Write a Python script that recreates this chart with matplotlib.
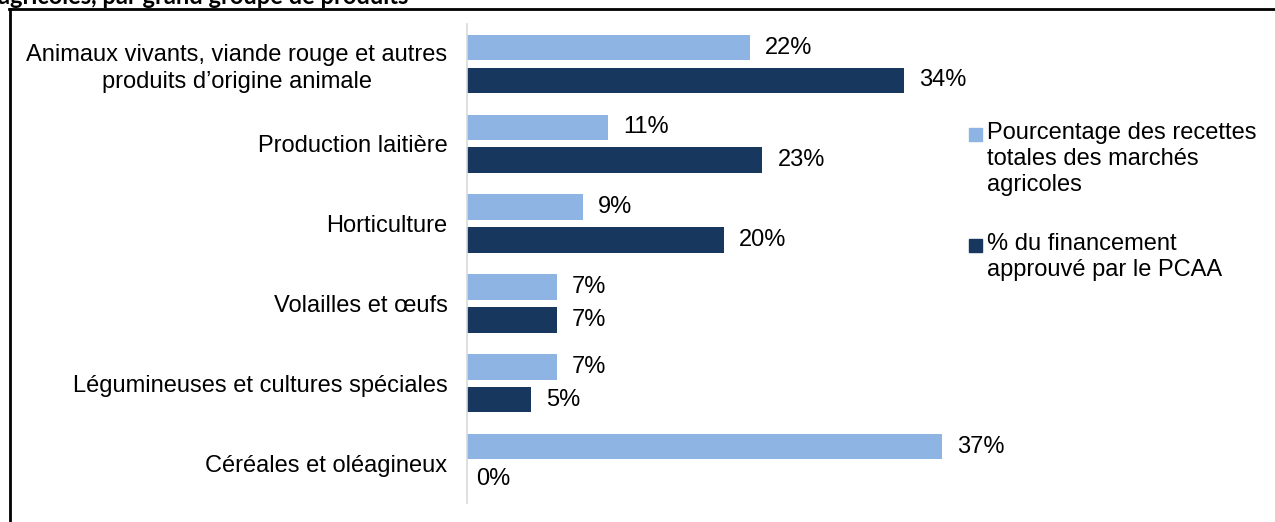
import numpy as np
import matplotlib.pyplot as plt
from matplotlib.patches import Rectangle

plt.rcParams['font.family'] = ['Liberation Sans', 'DejaVu Sans']

# data
categories = ['Animaux vivants, viande rouge et autres\nproduits d\u2019origine animale',
              'Production laiti\u00e8re',
              'Horticulture',
              'Volailles et \u0153ufs',
              'L\u00e9gumineuses et cultures sp\u00e9ciales',
              'C\u00e9r\u00e9ales et ol\u00e9agineux']
recettes = [22, 11, 9, 7, 7, 37]
pcaa = [34, 23, 20, 7, 5, 0]
series_labels = ['Pourcentage des recettes\ntotales des march\u00e9s\nagricoles',
                 '% du financement\napprouv\u00e9 par le PCAA']

light = '#8eb4e3'
dark = '#17375e'
W, H = 1275, 522

fig = plt.figure(figsize=(W / 100, H / 100), dpi=100)
ax = fig.add_axes([467 / W, 1 - 503 / H, 533 / W, 479 / H])

y = np.arange(len(categories))
h = 0.32
off = 0.205
b1 = ax.barh(y - off, recettes, height=h, color=light)
b2 = ax.barh(y + off, pcaa, height=h, color=dark)

for bars, vals in ((b1, recettes), (b2, pcaa)):
    for rect, v in zip(bars, vals):
        ax.annotate(f'{v}%', (v, rect.get_y() + rect.get_height() / 2),
                    xytext=(15 if v > 0 else 9, 0), textcoords='offset pixels',
                    va='center', ha='left', fontsize=17, color='black')

ax.set_xlim(0, 41.5)
ax.set_ylim(len(categories) - 0.5, -0.5)
ax.set_yticks(y)
ax.set_yticklabels(categories, fontsize=17, ha='right', multialignment='center',
                   linespacing=1.25)
ax.tick_params(axis='y', length=0, pad=14)
ax.set_xticks([])
for s in ('top', 'right', 'bottom'):
    ax.spines[s].set_visible(False)
ax.spines['left'].set_color('#d9d9d9')
ax.spines['left'].set_linewidth(1.2)

# legend, square beside the first line of each entry
legend_tops = [122, 233]
for col, lab, top in zip((light, dark), series_labels, legend_tops):
    fig.patches.append(Rectangle((969 / W, 1 - (top + 19) / H), 13 / W, 13 / H,
                                 transform=fig.transFigure, color=col))
    fig.text(987 / W, 1 - top / H, lab, fontsize=17, va='top', ha='left',
             linespacing=1.23)

# outer frame (left and top only) and cropped title
fig.add_artist(plt.Line2D([10 / W, 10 / W], [0, 1 - 9 / H],
                          transform=fig.transFigure, color='black', lw=2))
fig.add_artist(plt.Line2D([9 / W, 1], [1 - 9 / H, 1 - 9 / H],
                          transform=fig.transFigure, color='black', lw=2))
fig.text(-2 / W, 1 - 4 / H, 'agricoles, par grand groupe de produits',
         fontsize=17, fontweight='bold', family=['Lato', 'DejaVu Sans'],
         va='baseline', ha='left')

fig.savefig('out.png', dpi=100)
